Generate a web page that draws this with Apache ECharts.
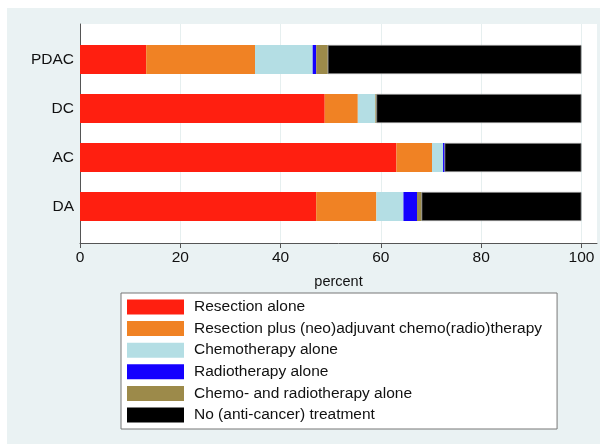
<!DOCTYPE html>
<html>
<head>
<meta charset="utf-8">
<script src="https://cdn.jsdelivr.net/npm/echarts@6/dist/echarts.min.js"></script>
<style>
  html, body { margin: 0; padding: 0; background: #fff; }
  #bg { position: absolute; left: 7px; top: 8px; width: 593px; height: 436px; background: #eaf2f3; }
  #chart { position: absolute; left: 0; top: 0; width: 607px; height: 444px; }
</style>
</head>
<body>
<div id="bg"></div>
<div id="chart"></div>
<script>
const categories = ['PDAC', 'DC', 'AC', 'DA'];
const resectionAlone = [13.2, 48.8, 63.1, 47.1];
const resectionPlus = [21.7, 6.6, 7.1, 12.0];
const chemoAlone = [11.5, 3.5, 2.2, 5.4];
const radioAlone = [0.7, 0.0, 0.3, 2.7];
const chemoRadio = [2.3, 0.2, 0.0, 0.9];
const noTreatment = [50.6, 40.9, 27.3, 31.9];
const xTicks = [0, 20, 40, 60, 80, 100];

const font = 'Liberation Sans, Arial, sans-serif';

const seriesDefs = [
  { name: 'Resection alone', data: resectionAlone, color: '#ff1f10' },
  { name: 'Resection plus (neo)adjuvant chemo(radio)therapy', data: resectionPlus, color: '#f08224' },
  { name: 'Chemotherapy alone', data: chemoAlone, color: '#b4dee4' },
  { name: 'Radiotherapy alone', data: radioAlone, color: '#1400ff' },
  { name: 'Chemo- and radiotherapy alone', data: chemoRadio, color: '#9c8a4a' },
  { name: 'No (anti-cancer) treatment', data: noTreatment, color: '#000000' }
];

var myChart = echarts.init(document.getElementById('chart'));

const option = {
  animation: false,
  textStyle: { fontFamily: font },
  grid: [
    // frame grid: white plot region, axes, gridlines
    { left: 80, right: 10, top: 24, bottom: 201, show: true, backgroundColor: '#ffffff', borderWidth: 0 },
    // bar grid: inset vertically like the original
    { left: 80, right: 10, top: 35, bottom: 213 }
  ],
  xAxis: [
    {
      gridIndex: 0, type: 'value', min: 0, max: 103.1, interval: 20,
      name: 'percent', nameLocation: 'middle', nameGap: 31,
      nameTextStyle: { fontSize: 14.5, color: '#111', fontFamily: font },
      axisLine: { show: true, lineStyle: { color: '#555', width: 1 } },
      axisTick: { show: true, length: 5, customValues: xTicks, lineStyle: { color: '#555' } },
      axisLabel: { fontSize: 15.5, color: '#111', margin: 7, customValues: xTicks, fontFamily: font },
      splitLine: { show: true, lineStyle: { color: '#e6efef', width: 1 } }
    },
    {
      gridIndex: 1, type: 'value', min: 0, max: 103.1,
      axisLine: { show: false }, axisTick: { show: false },
      axisLabel: { show: false }, splitLine: { show: false }
    }
  ],
  yAxis: [
    {
      gridIndex: 0, type: 'value', min: 0, max: 1,
      axisLine: { show: true, lineStyle: { color: '#555', width: 1 } },
      axisTick: { show: false }, axisLabel: { show: false }, splitLine: { show: false }
    },
    {
      gridIndex: 1, type: 'category', data: categories, inverse: true,
      axisLine: { show: false }, axisTick: { show: false },
      axisLabel: { fontSize: 15.5, color: '#111', margin: 6, fontFamily: font }
    }
  ],
  legend: {
    orient: 'vertical', left: 121, top: 293,
    backgroundColor: '#ffffff', borderColor: '#777', borderWidth: 1,
    padding: [6, 15, 6, 6],
    itemWidth: 57, itemHeight: 15, itemGap: 5.6,
    icon: 'rect',
    itemStyle: { borderWidth: 0 },
    textStyle: { fontSize: 15.5, color: '#111', lineHeight: 15, padding: [0, 0, 0, 5], fontFamily: font },
    data: seriesDefs.map(s => s.name)
  },
  series: seriesDefs.map(s => ({
    name: s.name,
    type: 'bar',
    stack: 'total',
    xAxisIndex: 1,
    yAxisIndex: 1,
    barWidth: 29,
    data: s.data,
    itemStyle: s.color === '#000000'
      ? { color: s.color, borderColor: '#777', borderWidth: 0.8 }
      : { color: s.color }
  }))
};

myChart.setOption(option);
</script>
</body>
</html>
